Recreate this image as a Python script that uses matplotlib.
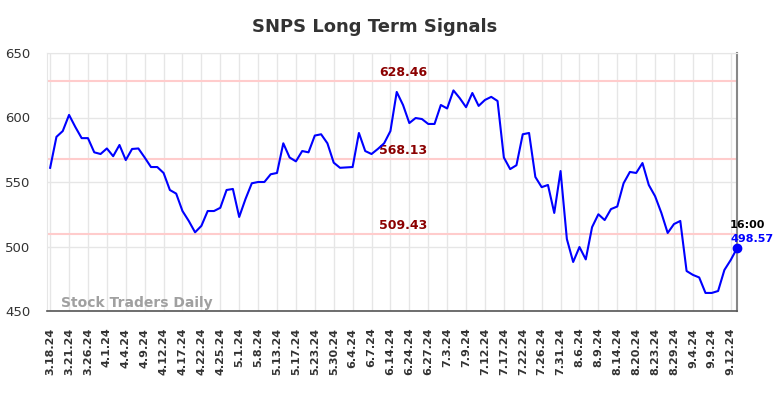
import matplotlib.pyplot as plt

# tick labels every 3 sessions
tick_labels = ['3.18.24', '3.21.24', '3.26.24', '4.1.24', '4.4.24', '4.9.24', '4.12.24',
               '4.17.24', '4.22.24', '4.25.24', '5.1.24', '5.8.24', '5.13.24', '5.17.24',
               '5.23.24', '5.30.24', '6.4.24', '6.7.24', '6.14.24', '6.24.24', '6.27.24',
               '7.3.24', '7.9.24', '7.12.24', '7.17.24', '7.22.24', '7.26.24', '7.31.24',
               '8.6.24', '8.9.24', '8.14.24', '8.20.24', '8.23.24', '8.29.24', '9.4.24',
               '9.9.24', '9.12.24']

# closing prices
prices = [561, 585, 589.5, 602, 592.6, 584, 584, 573, 571.7, 576,
          570, 578.7, 567, 575.6, 576, 569, 561.6, 561.6, 557, 543.8,
          541, 527.5, 519.8, 511, 516, 527.5, 527.5, 530, 543.8, 544.6,
          522.9, 536.8, 549, 550, 550, 556, 557, 580, 569, 566,
          574, 573, 586, 587, 580, 565, 561, 561.3, 561.6, 588,
          574, 571.7, 575.6, 580, 589.5, 619.8, 609.7, 595.7, 599.6, 598.8,
          595, 595, 609.7, 607, 621, 615, 608, 619, 609, 613.6,
          616, 612.8, 569, 560, 563, 587, 588, 553.9, 546, 547.7,
          526, 558.5, 505.8, 488, 499.6, 490, 515, 525, 520.5, 529,
          531, 549, 557.8, 557, 564.7, 547.7, 539, 526, 510.5, 517.4,
          519.8, 481, 478, 476, 464, 464, 465.5, 481.8, 489.5, 498.57]

levels = [628.46, 568.13, 509.43]
last_time = '16:00'

x = list(range(len(prices)))

fig = plt.figure(figsize=(7.84, 3.98), dpi=100)
ax = fig.add_axes([47 / 784, 1 - 311 / 398, 690 / 784, 258 / 398])

ax.set_xlim(-0.5, len(prices) - 1)
ax.set_ylim(450, 650)

# grid
ax.set_xticks(x[::3])
ax.set_xticklabels(tick_labels, rotation=90, fontsize=8, fontweight='bold', color='#333333')
ax.set_yticks([450, 500, 550, 600, 650])
ax.tick_params(axis='y', length=0, pad=12, labelsize=9.5, colors='#333333')
ax.tick_params(axis='x', length=0, pad=12)
ax.grid(True, color='#e6e6e6', linewidth=1)
ax.set_axisbelow(True)

for s in ['top', 'left']:
    ax.spines[s].set_color('#e6e6e6')
ax.spines['bottom'].set_color('#555555')
ax.spines['bottom'].set_linewidth(1.2)
ax.spines['right'].set_color('#888888')
ax.spines['right'].set_linewidth(1.5)

# signal levels
for lv in levels:
    ax.axhline(lv, color='#ffcccc', linewidth=1.5, zorder=1)
    ax.text(56, lv + 1.5, '%.2f' % lv, color='#8b0000', fontsize=9, fontweight='bold',
            ha='center', va='bottom')

ax.plot(x, prices, color='blue', linewidth=1.5, zorder=3)
ax.plot(x[-1], prices[-1], 'o', color='blue', markersize=6, zorder=4, clip_on=False)

ax.annotate(last_time, (x[-1], prices[-1]), xytext=(-5, 17), textcoords='offset points',
            fontsize=8, fontweight='bold', color='black', ha='left', va='center')
ax.annotate('%.2f' % prices[-1], (x[-1], prices[-1]), xytext=(-5, 7), textcoords='offset points',
            fontsize=8, fontweight='bold', color='blue', ha='left', va='center')

ax.text(0.02, 0.03, 'Stock Traders Daily', transform=ax.transAxes, fontsize=10,
        fontweight='bold', color='#a0a0a0', ha='left', va='center')

fig.text(374.5 / 784, 1 - 27 / 398, 'SNPS Long Term Signals', fontsize=13,
         fontweight='bold', color='#333333', ha='center', va='center')

fig.savefig('out.png', dpi=100)
